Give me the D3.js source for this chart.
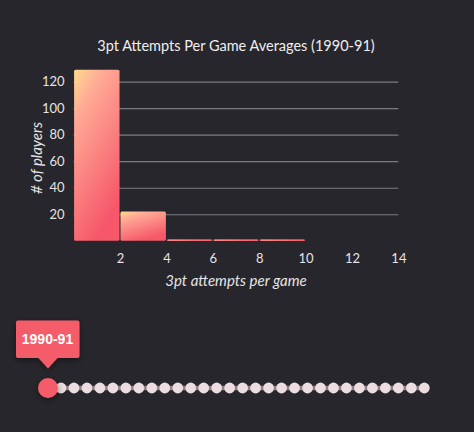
<!DOCTYPE html>
<html><head><meta charset="utf-8">
<script src="https://cdn.jsdelivr.net/npm/d3@7"></script>
<style>
html,body{margin:0;padding:0;background:#27262c;}
svg{display:block;}
</style></head><body>
<svg id="c" width="474" height="432"></svg>
<script>
const binStarts = [0, 2, 4, 6, 8];
const binEnds = [2, 4, 6, 8, 10];
const playerCounts = [129, 22, 1, 1, 1];
const xTicks = [2, 4, 6, 8, 10, 12, 14];
const yTicks = [20, 40, 60, 80, 100, 120];
const seasons = ["1990-91","1991-92","1992-93","1993-94","1994-95","1995-96","1996-97","1997-98","1998-99","1999-00",
"2000-01","2001-02","2002-03","2003-04","2004-05","2005-06","2006-07","2007-08","2008-09","2009-10",
"2010-11","2011-12","2012-13","2013-14","2014-15","2015-16","2016-17","2017-18","2018-19","2019-20"];
const selected = "1990-91";

const svg = d3.select("#c");
const defs = svg.append("defs");
const g1 = defs.append("linearGradient").attr("id","bg").attr("x1","0").attr("y1","0").attr("x2","0.45").attr("y2","1");
g1.append("stop").attr("offset","0%").attr("stop-color","#ffda8c");
g1.append("stop").attr("offset","25%").attr("stop-color","#ffaa96");
g1.append("stop").attr("offset","100%").attr("stop-color","#f6586a");
const f = defs.append("filter").attr("id","sh").attr("x","-50%").attr("y","-50%").attr("width","200%").attr("height","200%");
f.append("feDropShadow").attr("dx",0).attr("dy",2).attr("stdDeviation",3).attr("flood-color","#000").attr("flood-opacity",0.45);

const x = d3.scaleLinear().domain([0,14]).range([73.6,398.4]);
const y = d3.scaleLinear().domain([0,d3.max(playerCounts)]).range([240.8,69.7]);

svg.append("text").attr("x",236).attr("y",51).attr("text-anchor","middle")
  .attr("font-family","Lato, sans-serif").attr("font-size",14.5).attr("fill","#eeeeee")
  .text("3pt Attempts Per Game Averages (" + selected + ")");

// grid
const yAxis = d3.axisLeft(y).tickValues(yTicks).tickSize(-(x(14)-x(0))).tickPadding(9);
const ga = svg.append("g").attr("transform",`translate(${x(0)},0)`).call(yAxis);
ga.select(".domain").remove();
ga.selectAll(".tick line").attr("stroke","#7c7b80").attr("stroke-width",1.2);
ga.selectAll(".tick text").attr("fill","#e4e4e4").attr("font-size",13).attr("font-family","Lato, sans-serif");

// bars
svg.append("g").selectAll("rect").data(playerCounts).join("rect")
  .attr("x",(d,i)=>x(binStarts[i])+0.5)
  .attr("width",(d,i)=>x(binEnds[i])-x(binStarts[i])-1)
  .attr("y",d=>y(d))
  .attr("height",d=>Math.max(1.5,y(0)-y(d)))
  .attr("rx",1.5)
  .attr("fill","url(#bg)");

const xAxis = d3.axisBottom(x).tickValues(xTicks).tickSize(0).tickPadding(13);
const gx = svg.append("g").attr("transform",`translate(0,${y(0)})`).call(xAxis);
gx.select(".domain").remove();
gx.selectAll(".tick text").attr("fill","#e4e4e4").attr("font-size",13).attr("font-family","Lato, sans-serif");

svg.append("text").attr("x",236).attr("y",286).attr("text-anchor","middle")
  .attr("font-family","Lato, sans-serif").attr("font-style","italic").attr("font-size",15).attr("fill","#e4e4e4")
  .text("3pt attempts per game");
svg.append("text").attr("transform","translate(42,158) rotate(-90)").attr("text-anchor","middle")
  .attr("font-family","Lato, sans-serif").attr("font-style","italic").attr("font-size",15).attr("fill","#e4e4e4")
  .text("# of players");

// slider
const s = d3.scalePoint().domain(seasons).range([48,424.3]);
const sy = 388;
svg.append("line").attr("x1",s(seasons[0])).attr("x2",s(seasons[seasons.length-1])).attr("y1",sy).attr("y2",sy)
  .attr("stroke","#8d7f83").attr("stroke-width",4.5);
svg.append("g").selectAll("circle").data(seasons.filter(d=>d!==selected)).join("circle")
  .attr("cx",d=>s(d)).attr("cy",sy).attr("r",5.4).attr("fill","#ecdde0");
svg.append("circle").attr("cx",s(selected)).attr("cy",sy).attr("r",10).attr("fill","#f45c6a").attr("filter","url(#sh)");

const tx = s(selected);
const tip = svg.append("g").attr("filter","url(#sh)");
tip.append("rect").attr("x",tx-32).attr("y",320.5).attr("width",63.5).attr("height",37.5).attr("rx",2).attr("fill","#f45c6a");
tip.append("path").attr("d",`M${tx-10},357.5 L${tx+10},357.5 L${tx},368.5 Z`).attr("fill","#f45c6a");
svg.append("text").attr("x",tx-0.5).attr("y",344).attr("text-anchor","middle")
  .attr("font-family","Liberation Sans, Arial, sans-serif").attr("font-weight","bold").attr("font-size",14).attr("fill","#ffffff")
  .text(selected);
</script>
</body></html>
